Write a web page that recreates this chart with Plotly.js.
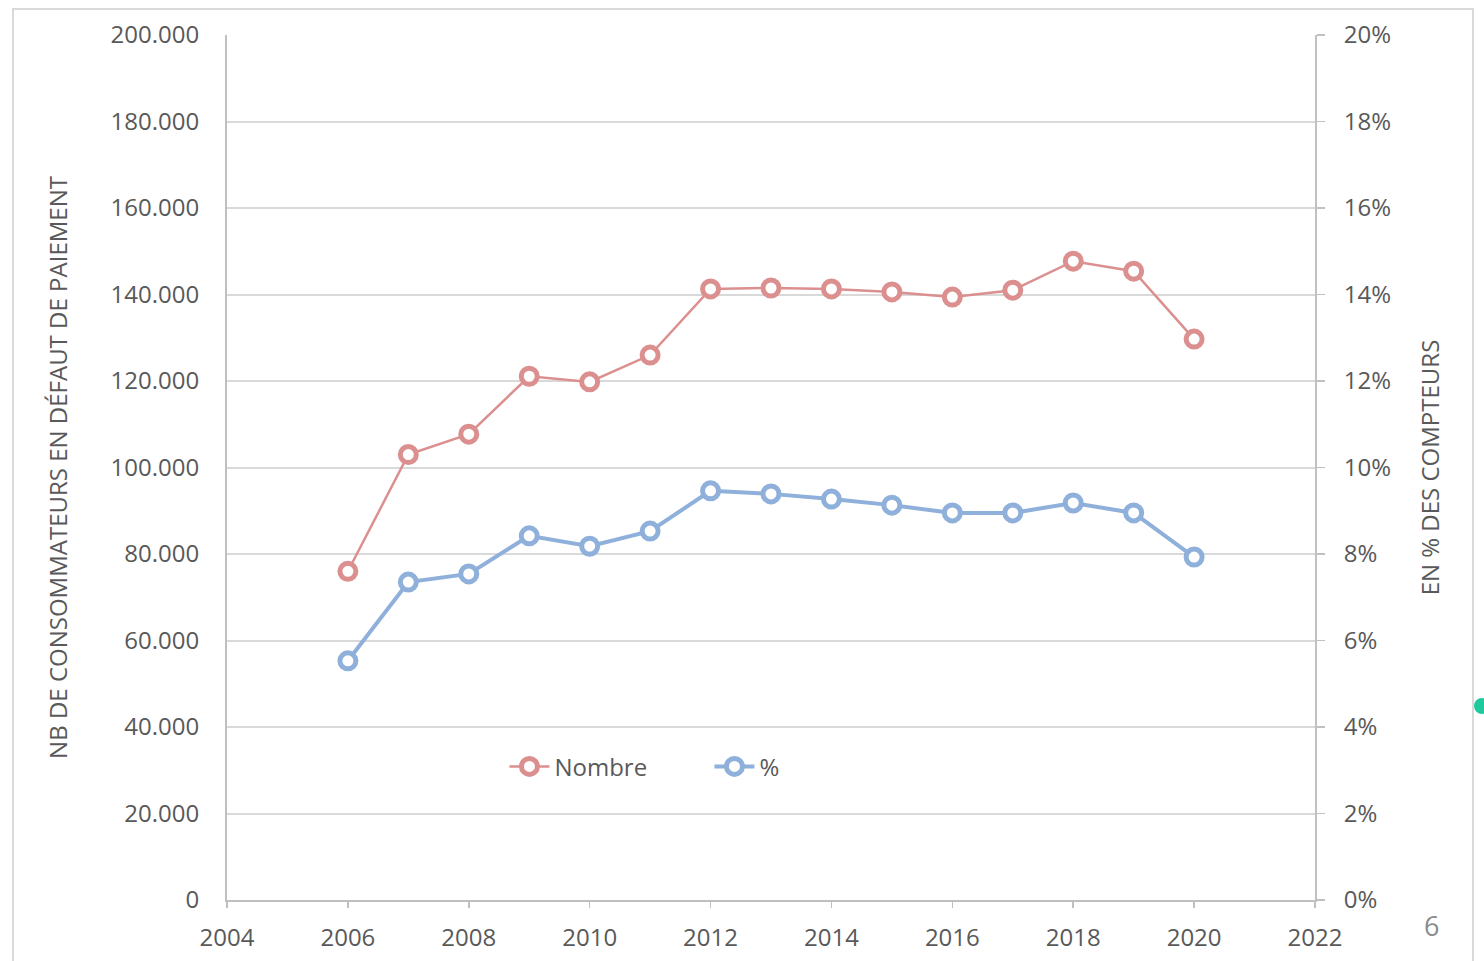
<!DOCTYPE html>
<html>
<head>
<meta charset="utf-8">
<script src="https://cdn.plot.ly/plotly-3.0.1.min.js"></script>
<style>
  html, body { margin: 0; padding: 0; background: #fff; overflow: hidden; }
  #chart { width: 1484px; height: 961px; }
  #frame { position: absolute; left: 12px; top: 8px; width: 1462px; height: 960px; border: 2px solid #d9d9d9; pointer-events: none; box-sizing: border-box; }
  #dot { position: absolute; left: 1474px; top: 698px; width: 16px; height: 16px; border-radius: 50%; background: #1ec99b; pointer-events: none; }
</style>
</head>
<body>
<div id="chart"></div>
<div id="frame"></div>
<div id="dot"></div>
<script>
const years = [2006, 2007, 2008, 2009, 2010, 2011, 2012, 2013, 2014, 2015, 2016, 2017, 2018, 2019, 2020];
const nombre = [76000, 103000, 107700, 121100, 119800, 126000, 141300, 141500, 141300, 140600, 139400, 141000, 147700, 145400, 129700];
const pct = [0.0553, 0.0735, 0.0754, 0.0842, 0.0818, 0.0853, 0.0946, 0.0939, 0.0927, 0.0913, 0.0895, 0.0895, 0.0918, 0.0895, 0.0793];
const seriesNames = ['Nombre', '%'];
const leftTitle = 'NB DE CONSOMMATEURS EN DÉFAUT DE PAIEMENT';
const rightTitle = 'EN % DES COMPTEURS';
const pageNumber = '6';

const FONT = '"Open Sans", "Noto Sans", sans-serif';
const GREY = '#595959';
const FS = 24;

const traces = [
  {
    x: years, y: nombre, name: seriesNames[0], type: 'scatter', mode: 'lines+markers',
    line: { color: '#dc8f8f', width: 2.5 },
    marker: { symbol: 'circle', size: 16, color: '#ffffff', line: { color: '#dc8f8f', width: 5 } },
    yaxis: 'y'
  },
  {
    x: years, y: pct, name: seriesNames[1], type: 'scatter', mode: 'lines+markers',
    line: { color: '#8eb0da', width: 4 },
    marker: { symbol: 'circle', size: 16, color: '#ffffff', line: { color: '#8eb0da', width: 5 } },
    yaxis: 'y2'
  }
];

const layout = {
  width: 1484, height: 961,
  margin: { l: 227, r: 169, t: 35, b: 61, pad: 0 },
  paper_bgcolor: '#ffffff', plot_bgcolor: '#ffffff',
  separators: ',.',
  font: { family: FONT, color: GREY, size: FS },
  showlegend: true,
  legend: {
    orientation: 'h', x: 0.255, y: 0.154, xanchor: 'left', yanchor: 'middle',
    font: { family: FONT, size: FS, color: GREY }, bgcolor: 'rgba(0,0,0,0)',
    itemwidth: 40, traceorder: 'normal', entrywidth: 150
  },
  xaxis: {
    range: [2004, 2022], dtick: 2, tick0: 2004, showgrid: false, zeroline: false,
    showline: true, linecolor: '#c0c0c0', linewidth: 2,
    ticks: 'outside', ticklen: 6, tickwidth: 1.5, tickcolor: '#c0c0c0',
    tickfont: { family: FONT, size: FS, color: GREY }, ticklabelstandoff: 9
  },
  yaxis: {
    range: [0, 200000], dtick: 20000, tickformat: ',d',
    showgrid: true, gridcolor: '#d9d9d9', gridwidth: 2, zeroline: false,
    showline: true, linecolor: '#c0c0c0', linewidth: 2, ticks: '',
    tickfont: { family: FONT, size: FS, color: GREY }, ticklabelstandoff: 21,
    title: { text: leftTitle, font: { family: FONT, size: FS, color: GREY }, standoff: 36 }
  },
  yaxis2: {
    range: [0, 0.2], dtick: 0.02, tickformat: '.0%', overlaying: 'y', side: 'right',
    showgrid: false, zeroline: false,
    showline: true, linecolor: '#c0c0c0', linewidth: 2,
    ticks: 'outside', ticklen: 8, tickwidth: 1.5, tickcolor: '#c0c0c0',
    tickfont: { family: FONT, size: FS, color: GREY }, ticklabelstandoff: 14,
    title: { text: rightTitle, font: { family: FONT, size: FS, color: GREY }, standoff: 32 }
  },
  annotations: [
    { text: pageNumber, xref: 'paper', yref: 'paper', x: 1.107, y: -0.03, xanchor: 'center', yanchor: 'middle',
      showarrow: false, font: { family: FONT, size: 27, color: '#8c8c8c' } }
  ]
};

Plotly.newPlot('chart', traces, layout, { displayModeBar: false, staticPlot: true });
</script>
</body>
</html>
